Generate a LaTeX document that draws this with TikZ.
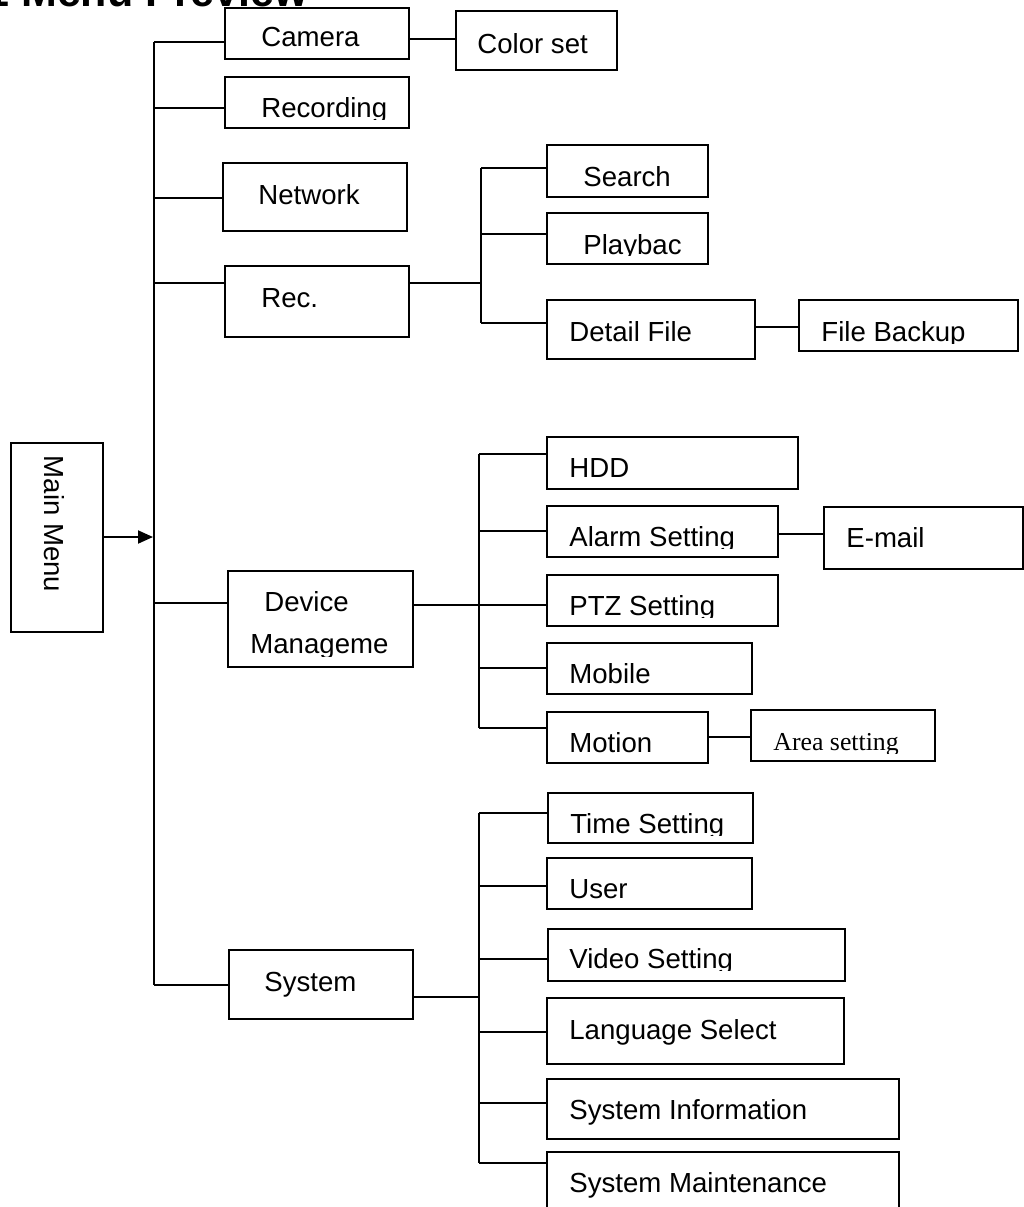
\documentclass[tikz,border=0pt]{standalone}
\usepackage{fontspec}
\setmainfont{Liberation Sans}
\newfontfamily\myserif{Liberation Serif}
\usetikzlibrary{arrows.meta}
\newcommand\mybox[5]{\node[box,minimum width={(#4-#2)*0.5pt},minimum height={(#5-#3)*0.5pt}] (#1) at ({(#2+#4)/2},{(#3+#5)/2}) {};}
\newcommand\mylab[4]{\node[lab] (#1) at (#2,#3) {#4};}
\newcommand\myclab[5]{\begin{scope}\clip (#2-20,#3-60) rectangle (#2+420,#4);\node[lab] (#1) at (#2,#3) {#5};\end{scope}}
\begin{document}
\begin{tikzpicture}[x=0.5pt,y=-0.5pt,
  box/.style={draw,line width=1pt,inner sep=0pt,rectangle},
  wire/.style={line width=1pt},
  lab/.style={inner sep=0pt,font=\fontsize{13.8}{16}\selectfont,anchor=base west}]
\clip (0,0) rectangle (1024,1207);
\useasboundingbox (0,0) rectangle (1024,1207);
% title (cut off at the top)
\node[inner sep=0pt,anchor=base west,font=\bfseries\fontsize{21.5}{24}\selectfont] (title) at (-15,6) {1 Menu Preview};
% boxes
\mybox{cam}{225}{8}{409}{59}
\mybox{recd}{225}{77}{409}{128}
\mybox{net}{223}{163}{407}{231}
\mybox{recb}{225}{266}{409}{337}
\mybox{colset}{456}{11}{617}{70}
\mybox{search}{547}{145}{708}{197}
\mybox{play}{547}{213}{708}{264}
\mybox{detail}{547}{300}{755}{359}
\mybox{backup}{799}{300}{1018}{351}
\mybox{mm}{11}{443}{103}{632}
\mybox{dev}{228}{571}{413}{667}
\mybox{hdd}{547}{437}{798}{489}
\mybox{alarm}{547}{506}{778}{557}
\mybox{email}{824}{507}{1023}{569}
\mybox{ptz}{547}{575}{778}{626}
\mybox{mobile}{547}{643}{752}{694}
\mybox{motion}{547}{712}{708}{763}
\mybox{area}{751}{710}{935}{761}
\mybox{sys}{229}{950}{413}{1019}
\mybox{time}{548}{793}{753}{843}
\mybox{user}{547}{858}{752}{909}
\mybox{video}{548}{929}{845}{981}
\mybox{lang}{547}{998}{844}{1064}
\mybox{sinfo}{547}{1079}{899}{1139}
\mybox{smaint}{547}{1152}{899}{1240}
% labels
\mylab{lcam}{261}{46.5}{Camera}
\myclab{lrecd}{261}{117}{119}{Recording}
\mylab{lcol}{477}{53}{Color set}
\mylab{lnet}{258}{204}{Network}
\mylab{lrecb}{261}{307}{Rec.}
\mylab{lsearch}{583}{186.7}{Search}
\myclab{lplay}{583}{254}{255.5}{Playbac}
\mylab{ldetail}{569}{341.7}{Detail File}
\myclab{lbackup}{821}{341}{343}{File Backup}
\node[inner sep=0pt,rotate=-90,font=\fontsize{13.8}{16}\selectfont] (lmm) at (54,524) {Main Menu};
\mylab{ldev}{264}{611.7}{Device}
\myclab{ldev2}{250}{653.5}{656}{Manageme}
\mylab{lhdd}{569}{477.7}{HDD}
\myclab{lalarm}{569}{546.7}{548.5}{Alarm Setting}
\mylab{lemail}{846}{547.7}{E-mail}
\myclab{lptz}{569}{615}{617}{PTZ Setting}
\myclab{lmobile}{569}{683.3}{684.5}{Mobile}
\mylab{lmotion}{569}{752.3}{Motion}
\begin{scope}\clip (750,690) rectangle (935,753);
\node[lab,font=\myserif\fontsize{12.9}{15}\selectfont] (larea) at (773,750) {Area setting};
\end{scope}
\mylab{lsys}{264}{991}{System}
\myclab{ltime}{570}{833.3}{835}{Time Setting}
\mylab{luser}{569}{898.3}{User}
\myclab{lvideo}{569}{968.3}{970}{Video Setting}
\mylab{llang}{569}{1039.3}{Language Select}
\mylab{lsinfo}{569}{1119.3}{System Information}
\mylab{lsmaint}{569}{1192.7}{System Maintenance}
% main trunk
\coordinate (ttop) at (154,41.7);
\coordinate (trecd) at (154,107.7);
\coordinate (tnet) at (154,198);
\coordinate (trecb) at (154,282.7);
\coordinate (tarr) at (153,537);
\coordinate (tdev) at (154,603.3);
\coordinate (tsys) at (154,985.3);
\draw[wire] (ttop) -- (tsys);
\draw[wire] (ttop) -- (ttop -| cam.west);
\draw[wire] (trecd) -- (trecd -| recd.west);
\draw[wire] (tnet) -- (tnet -| net.west);
\draw[wire] (trecb) -- (trecb -| recb.west);
\draw[wire] (tdev) -- (tdev -| dev.west);
\draw[wire] (tsys) -- (tsys -| sys.west);
\draw[wire,-{Triangle[length=7.5pt,width=6.5pt]}] (tarr -| mm.east) -- (tarr);
% camera -> color set
\coordinate (ccs) at (0,39);
\draw[wire] (cam.east |- ccs) -- (colset.west |- ccs);
% rec. branch
\coordinate (rtop) at (481,168);
\coordinate (rmid) at (481,233.7);
\coordinate (rbot) at (481,323);
\draw[wire] (recb.east |- trecb) -- (rtop |- trecb);
\draw[wire] (rtop) -- (rbot);
\draw[wire] (rtop) -- (rtop -| search.west);
\draw[wire] (rmid) -- (rmid -| play.west);
\draw[wire] (rbot) -- (rbot -| detail.west);
\coordinate (cbk) at (0,327);
\draw[wire] (detail.east |- cbk) -- (backup.west |- cbk);
% device management branch
\coordinate (dtop) at (479,454);
\coordinate (dal) at (479,530.7);
\coordinate (dptz) at (479,605);
\coordinate (dmob) at (479,668.3);
\coordinate (dbot) at (479,728.3);
\draw[wire] (dev.east |- dptz) -- (dptz);
\draw[wire] (dtop) -- (dbot);
\draw[wire] (dtop) -- (dtop -| hdd.west);
\draw[wire] (dal) -- (dal -| alarm.west);
\draw[wire] (dptz) -- (dptz -| ptz.west);
\draw[wire] (dmob) -- (dmob -| mobile.west);
\draw[wire] (dbot) -- (dbot -| motion.west);
\coordinate (cem) at (0,534.3);
\draw[wire] (alarm.east |- cem) -- (email.west |- cem);
\coordinate (car) at (0,736.7);
\draw[wire] (motion.east |- car) -- (area.west |- car);
% system branch
\coordinate (stop) at (479,813.3);
\coordinate (suser) at (479,886);
\coordinate (svid) at (479,959.3);
\coordinate (slang) at (479,1031.7);
\coordinate (sinf) at (479,1103.3);
\coordinate (sbot) at (479,1162.7);
\coordinate (sys2) at (0,996.7);
\draw[wire] (sys.east |- sys2) -- (stop |- sys2);
\draw[wire] (stop) -- (sbot);
\draw[wire] (stop) -- (stop -| time.west);
\draw[wire] (suser) -- (suser -| user.west);
\draw[wire] (svid) -- (svid -| video.west);
\draw[wire] (slang) -- (slang -| lang.west);
\draw[wire] (sinf) -- (sinf -| sinfo.west);
\draw[wire] (sbot) -- (sbot -| smaint.west);
\end{tikzpicture}
\end{document}
